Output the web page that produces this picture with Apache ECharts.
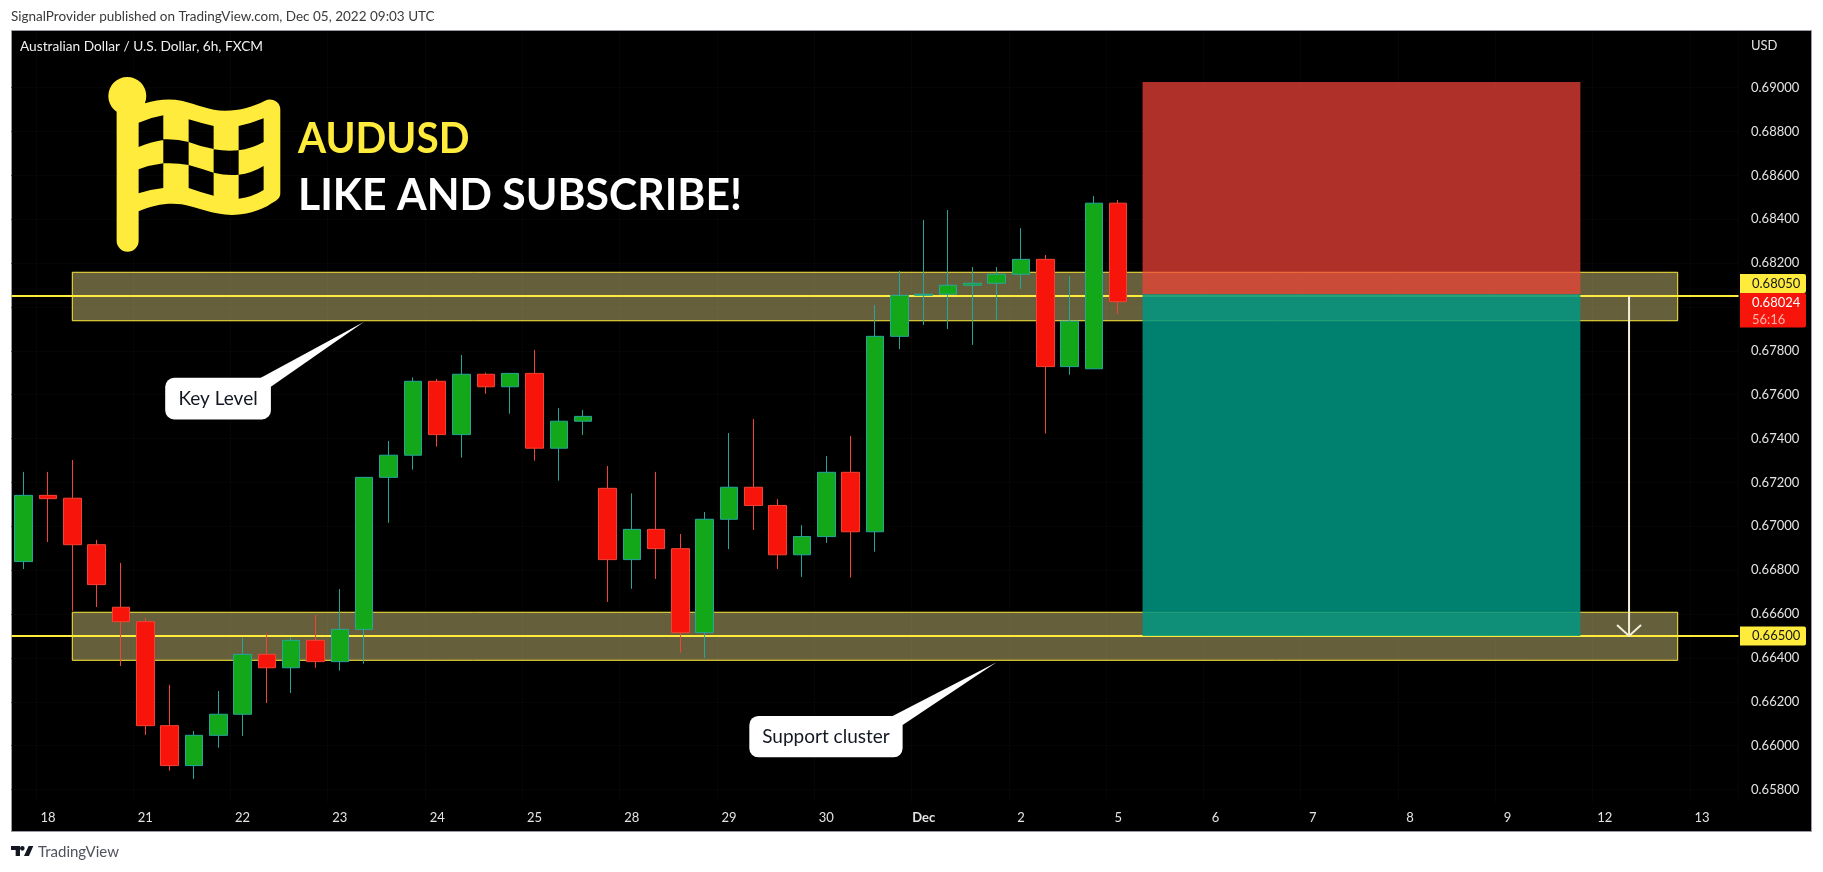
<!DOCTYPE html>
<html>
<head>
<meta charset="utf-8">
<style>html,body{margin:0;padding:0;background:#fff}#c{width:1823px;height:872px}</style>
<script src="https://cdn.jsdelivr.net/npm/echarts@6/dist/echarts.min.js"></script>
</head>
<body>
<div id="c"></div>
<script>
// candle values: [open, close, low, high]
const candles = [
[.66839,.67141,.66805,.67248],[.67141,.67126,.66928,.67248],[.67128,.66916,.66614,.67302],[.66916,.66734,.66632,.66938],
[.66631,.66565,.66363,.66833],[.66565,.66091,.66049,.66583],[.66091,.65909,.65886,.66277],[.65909,.66047,.65848,.66067],
[.66047,.66143,.65991,.66249],[.66143,.66416,.66044,.66491],[.66416,.66355,.66194,.66512],[.66355,.66480,.66240,.66495],
[.66480,.66383,.66355,.66596],[.66383,.66530,.66342,.66714],[.66530,.67223,.66374,.67223],[.67223,.67324,.67016,.67389],
[.67324,.67661,.67258,.67679],[.67661,.67418,.67363,.67672],[.67418,.67693,.67313,.67781],[.67693,.67636,.67604,.67700],
[.67636,.67697,.67513,.67697],[.67697,.67356,.67299,.67804],[.67356,.67479,.67208,.67539],[.67479,.67501,.67416,.67530],
[.67173,.66848,.66655,.67275],[.66848,.66986,.66715,.67150],[.66986,.66898,.66760,.67248],[.66898,.66515,.66424,.66965],
[.66515,.67032,.66400,.67065],[.67032,.67178,.66896,.67425],[.67178,.67095,.66983,.67489],[.67095,.66870,.66805,.67124],
[.66870,.66953,.66769,.67005],[.66953,.67246,.66924,.67320],[.67246,.66975,.66766,.67412],[.66975,.67866,.66884,.68009],
[.67866,.68053,.67808,.68164],[.68053,.68058,.67918,.68396],[.68058,.68099,.67899,.68442],[.68099,.68108,.67827,.68182],
[.68108,.68149,.67940,.68182],[.68149,.68217,.68082,.68359],[.68217,.67728,.67423,.68237],[.67728,.67935,.67691,.68141],
[.67718,.68473,.67718,.68506],[.68473,.68024,.67968,.68488]
];
const dayLabels = ['18','21','22','23','24','25','28','29','30','Dec','2','5','6','7','8','9','12','13'];
const priceTicks = [.658,.66,.662,.664,.666,.668,.67,.672,.674,.676,.678,.68,.682,.684,.686,.688,.69];
const barCount = 71;
const zones = [[.67937,.68158],[.66389,.66608]];
const levels = [.6805,.665];
const lastPrice = .68024;
const riskBox = [.68058,.69026];
const rewardBox = [.665,.68058];
const boxIdx = [46,64];
const zoneIdx = [2,68];
const arrowIdx = 66;
const callouts = [
  {text:'Key Level', idx:14, price:.67932},
  {text:'Support cluster', idx:40, price:.6638}
];

const FONT = 'Lato';
const categories = Array.from({length:barCount},(_,i)=> (i%4===1 && dayLabels[(i-1)/4]) || ('b'+i));
const chart = echarts.init(document.getElementById('c'),null,{renderer:'canvas'});

const flagPath = 'M50,110 L135,100 C170,88 210,85 245,92 C290,102 330,122 375,122 C420,122 460,110 495,92 C515,82 541,95 541,118 L541,370 C541,385 530,392 515,400 C480,425 430,435 395,435 C340,435 290,410 245,403 C200,398 160,405 116,424 L116,512 A33,33 0 0 1 50,512 Z '
 +'M25,78 A57,57 0 1 1 139,78 A57,57 0 1 1 25,78 Z '
 +'M190,136 Q150,143 116,158 L116,231 Q150,216 190,210 Z '
 +'M341,168 Q305,160 266,148 L266,216 Q305,231 341,237 Z '
 +'M491,145 Q455,160 416,168 L416,241 Q455,236 491,216 Z '
 +'M266,216 Q230,206 190,208 L190,280 Q230,278 266,285 Z '
 +'M416,241 Q380,245 341,238 L341,308 Q380,318 416,314 Z '
 +'M190,280 Q150,285 116,298 L116,370 Q150,358 190,354 Z '
 +'M341,308 Q305,296 266,285 L266,354 Q305,368 341,377 Z '
 +'M491,288 Q455,310 416,314 L416,386 Q460,380 491,360 Z';
const tvLogoPath = 'M33,35 H60 V65 H47 V47 H33 Z M60,42 A7,7 0 1 1 74,42 A7,7 0 1 1 60,42 Z M86,35 H100 L87,65 H72 Z';

const txt=(x,y,text,size,fill,extra={})=>({type:'text',x,y,z:extra.z??50,scaleX:extra.sx??1,silent:true,style:Object.assign({text,fontFamily:FONT,fontSize:size,fill,verticalAlign:'middle',align:'left'},extra.style||{})});

const baseEls=[
    {type:'rect',z:-10,silent:true,shape:{x:11.5,y:30.5,width:1800,height:801},style:{fill:'#000',stroke:'#9a9aa2',lineWidth:1}},
    txt(11,17,'SignalProvider published on TradingView.com, Dec 05, 2022 09:03 UTC',13.5,'#3a3a3a'),
    txt(20,47,'Australian Dollar / U.S. Dollar, 6h, FXCM',13.7,'#f0f0f0'),
    txt(1751,46,'USD',13,'#e3e3e3'),
    txt(298,139.5,'AUDUSD',42,'#ffeb3b',{sx:.965,style:{fontWeight:'bold'}}),
    txt(298,195.5,'LIKE AND SUBSCRIBE!',44,'#ffffff',{sx:.97,style:{fontWeight:'bold'}}),
    txt(38,852,'TradingView',15,'#50535e')
];
chart.setOption({
  animation:false,
  backgroundColor:'#ffffff',
  grid:{left:11.5,top:31,width:1727,height:771,containLabel:false},
  xAxis:{type:'category',data:categories,boundaryGap:true,
    axisLine:{show:false},axisTick:{show:false},
    splitLine:{show:true,interval:(i)=>i%4===1,lineStyle:{color:'#060606',width:1}},
    axisLabel:{interval:(i)=>i%4===1,margin:9,fontFamily:FONT,fontSize:13,color:'#e3e3e3',
      formatter:(v)=> v==='Dec' ? '{b|Dec}' : v,rich:{b:{fontWeight:'bold',fontFamily:FONT,fontSize:13,color:'#e3e3e3'}}}},
  yAxis:{type:'value',position:'right',min:.65743,max:.69258,
    axisLine:{show:false},axisTick:{show:false,customValues:priceTicks},
    splitLine:{show:true,customValues:priceTicks,lineStyle:{color:'#060606',width:1}},
    axisLabel:{customValues:priceTicks,margin:12.5,fontFamily:FONT,fontSize:13,color:'#e3e3e3',align:'left',
      formatter:(v)=>v.toFixed(5)}},
  series:[
    {type:'line',data:[],z:1,silent:true,
     markArea:{silent:true,z:1,itemStyle:{color:'rgba(255,238,150,0.4)',borderColor:'#ffeb3b',borderWidth:1},
       data:zones.map(z=>[{xAxis:categories[zoneIdx[0]],yAxis:z[1]},{xAxis:categories[zoneIdx[1]],yAxis:z[0]}])}},
    {type:'line',data:[],z:2,silent:true,
     markLine:{silent:true,z:2,precision:5,symbol:'none',label:{show:false},lineStyle:{color:'#ffeb3b',width:2,type:'solid'},
       data:levels.map(v=>({yAxis:v}))}},
    {type:'line',data:[],z:3,silent:true,
     markArea:{silent:true,z:3,data:[
       [{xAxis:categories[boxIdx[0]],yAxis:riskBox[1],itemStyle:{color:'rgba(245,67,56,0.71)'}},{xAxis:categories[boxIdx[1]],yAxis:riskBox[0]}],
       [{xAxis:categories[boxIdx[0]],yAxis:rewardBox[1],itemStyle:{color:'rgba(0,150,131,0.85)'}},{xAxis:categories[boxIdx[1]],yAxis:rewardBox[0]}]
     ]}},
    {type:'candlestick',z:4,silent:true,data:candles,barWidth:18,
     itemStyle:{color:'#13a81a',color0:'#f7140a',borderColor:'#26a69a',borderColor0:'#f44336',borderWidth:1}},
    {type:'custom',coordinateSystem:'none',z:50,silent:true,clip:false,data:[0,1],
     renderItem:(p)=> p.dataIndex===0
       ? {type:'path',shape:{pathData:flagPath,x:108.3,y:77,width:172,height:174.7,layout:'cover'},style:{fill:'#ffeb3b'}}
       : {type:'path',shape:{pathData:tvLogoPath,x:11,y:846,width:22.3,height:10,layout:'cover'},style:{fill:'#131722'}}}
  ],
  graphic:{elements:baseEls}
});

// overlays anchored to data through the chart's own scales
const px=(i,v)=>chart.convertToPixel({xAxisIndex:0,yAxisIndex:0},[categories[i],v]);
const ov=[];
// arrow
const a0=px(arrowIdx,levels[0]), a1=px(arrowIdx,levels[1]);
ov.push({type:'polyline',z:60,silent:true,shape:{points:[a0,a1]},style:{stroke:'#f3efd8',lineWidth:2,fill:null}});
ov.push({type:'polyline',z:60,silent:true,shape:{points:[[a1[0]-12,a1[1]-11],a1,[a1[0]+12,a1[1]-11]]},style:{stroke:'#f3efd8',lineWidth:2,fill:null}});
// callouts
const shapes=[{w:105.7,h:41.6,dx:-199,dy:56,tl:95.7,tr:9,fs:19},{w:153.3,h:41.3,dx:-247.3,dy:53.7,tl:143.3,tr:9,fs:19}];
callouts.forEach((c,k)=>{
  const [tx,ty]=px(c.idx,c.price), s=shapes[k], x=tx+s.dx, y=ty+s.dy;
  ov.push({type:'rect',z:60,silent:true,shape:{x,y,width:s.w,height:s.h,r:9},style:{fill:'#fff'}});
  ov.push({type:'polygon',z:60,silent:true,shape:{points:[[x+s.tl,y],[tx,ty],[x+s.w,y+s.tr],[x+s.w-8,y+14]]},style:{fill:'#fff'}});
  ov.push(txt(x+s.w/2,y+s.h/2,c.text,s.fs,'#131722',{z:61,style:{align:'center'}}));
});
// price tags
const tag=(top,h,fill)=>{ov.push({type:'rect',z:70,silent:true,shape:{x:1740,y:top,width:66,height:h,r:[0,2,2,0]},style:{fill}});};
const yA=px(0,levels[0])[1], yB=px(0,levels[1])[1];
tag(yA-22,19,'#ffeb3b');
ov.push(txt(1752,yA-12.5,levels[0].toFixed(5),13,'#131722',{z:71}));
tag(yB-9.5,19,'#ffeb3b');
ov.push(txt(1752,yB,levels[1].toFixed(5),13,'#131722',{z:71}));
const yL=px(0,lastPrice)[1];
tag(yA-3,34.5,'#f7140a');
ov.push(txt(1752,yL+1,lastPrice.toFixed(5),13,'#ffffff',{z:71}));
ov.push(txt(1752,yL+18,'56:16',13,'#ffb3ad',{z:71}));
chart.setOption({graphic:{elements:baseEls.concat(ov)}});
</script>
</body>
</html>
